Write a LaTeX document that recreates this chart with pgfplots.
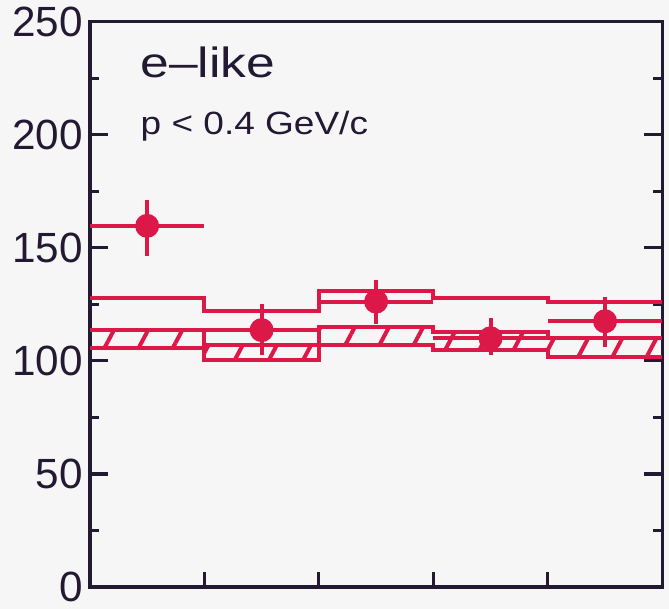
\documentclass[border=0pt]{standalone}
\usepackage{fontspec}
\setmainfont{Liberation Sans}
\usepackage{pgfplots}
\pgfplotsset{compat=1.18}
\usepgfplotslibrary{fillbetween}
\usetikzlibrary{patterns.meta}
\definecolor{hred}{RGB}{220,24,72}
\definecolor{axcol}{RGB}{35,25,50}
\definecolor{bg}{RGB}{246,246,246}

\begin{document}
\pagecolor{bg}
\begin{tikzpicture}
\begin{axis}[
scale only axis,width=284.5pt,height=281pt,
xmin=0,xmax=5,ymin=0,ymax=250,
xtick={1,2,3,4},xticklabels={},xtick pos=left,
ytick={0,50,...,250},minor ytick={25,75,...,225},
tick align=inside,
major tick length=9pt,minor tick length=4.5pt,
xtick style={/pgfplots/major tick length=7.5pt},
axis line style={line width=1.6pt,color=axcol},
tick style={line width=1.6pt,color=axcol},
ticklabel style={font=\fontsize{21}{24}\selectfont,text=axcol},
/pgf/number format/assume math mode=true,
clip=false
]
% expectation without oscillation
\addplot[hred,line width=2pt,const plot mark left] coordinates {(0,128)(1,122.2)(2,130.8)(3,127.6)(4,125.9)(5,125.9)};
% expectation band
\addplot[name path=up,hred,line width=2pt,const plot] coordinates {(0,113.6)(1,106.9)(2,115.1)(3,112.8)(4,109.9)(5,109.9)};
\addplot[name path=lo,hred,line width=2pt,const plot] coordinates {(0,105.7)(1,100.2)(2,106.9)(3,104.8)(4,101.7)(5,101.7)};
\addplot[pattern={Lines[angle=62,distance=15pt,line width=2pt]},pattern color=hred,draw=none] fill between[of=up and lo];
% data
\addplot[hred,only marks,mark=*,mark size=5.2pt,mark options={line width=1.5pt},
  error bars/.cd,x dir=both,x explicit,y dir=both,y explicit,
  error bar style={line width=2pt,hred},error mark=none]
coordinates {
(0.5,159.7) += (0.5,11.6) -= (0.5,13.3)
(1.5,113.6) += (0.5,11.4) -= (0.5,11.2)
(2.5,126.2) += (0.5,9.6) -= (0.5,9.7)
(3.5,110.0) += (0.5,9.0) -= (0.5,7.5)
(4.5,117.5) += (0.5,10.9) -= (0.5,11.3)
};
\node[anchor=base west,inner sep=0pt,text=axcol,font=\fontsize{21}{24}\selectfont] at (axis cs:0.44,225.5) {\scalebox{1.22}[1]{e–like}};
\node[anchor=base west,inner sep=0pt,text=axcol,font=\fontsize{16}{19}\selectfont] at (axis cs:0.44,200.2) {\scalebox{1.15}[1]{p < 0.4 GeV/c}};
\end{axis}
\end{tikzpicture}
\end{document}
